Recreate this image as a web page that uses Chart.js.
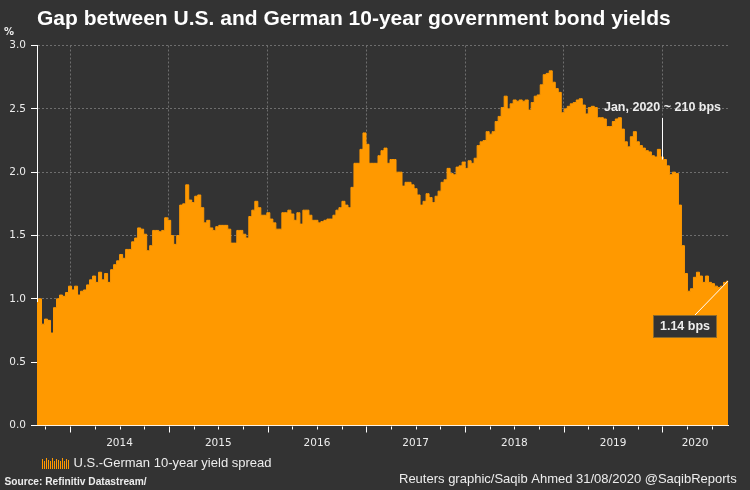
<!DOCTYPE html>
<html><head><meta charset="utf-8">
<style>html,body{margin:0;padding:0;background:#333333;overflow:hidden}canvas{display:block}</style>
<script src="https://cdn.jsdelivr.net/npm/chart.js@4"></script>
</head><body><canvas id="c" width="750" height="490"></canvas>
<script>
const titleText = "Gap between U.S. and German 10-year government bond yields";
const seriesName = "U.S.-German 10-year yield spread";
const sourceText = "Source: Refinitiv Datastream/";
const creditText = "Reuters graphic/Saqib Ahmed 31/08/2020 @SaqibReports";
const startYear = 2013.664, endYear = 2020.664;
const yearTicks = [2014,2015,2016,2017,2018,2019,2020];
const quarterTicks = [2013.75,2014.25,2014.5,2014.75,2015.25,2015.5,2015.75,2016.25,2016.5,2016.75,2017.25,2017.5,2017.75,2018.25,2018.5,2018.75,2019.25,2019.5,2019.75,2020.25,2020.5];
const yearLabels = ["2014","2015","2016","2017","2018","2019","2020"];
const yearLabelAt = [2014.5,2015.5,2016.5,2017.5,2018.5,2019.5,2020.33];
const yTicks = [0,0.5,1,1.5,2,2.5,3];
const spread = [
.97,1.0,.80,.84,.83,.73,.93,1.0,1.03,1.02,1.05,1.10,1.07,1.10,1.03,1.06,1.07,1.11,1.15,1.18,
1.13,1.21,1.15,1.20,1.13,1.23,1.27,1.30,1.35,1.32,1.39,1.39,1.45,1.48,1.56,1.55,1.51,1.38,1.42,1.54,
1.54,1.53,1.54,1.64,1.62,1.50,1.43,1.50,1.74,1.75,1.90,1.78,1.76,1.81,1.82,1.72,1.60,1.62,1.56,1.54,
1.57,1.58,1.58,1.58,1.55,1.44,1.44,1.54,1.54,1.51,1.48,1.65,1.70,1.77,1.72,1.66,1.66,1.68,1.63,1.60,
1.55,1.55,1.68,1.68,1.70,1.67,1.62,1.68,1.59,1.70,1.70,1.66,1.62,1.62,1.60,1.61,1.62,1.63,1.63,1.66,
1.70,1.72,1.77,1.74,1.72,1.88,2.07,2.07,2.18,2.31,2.22,2.07,2.07,2.07,2.13,2.17,2.19,2.07,2.10,2.10,
2.00,2.00,1.89,1.92,1.92,1.90,1.87,1.82,1.74,1.77,1.83,1.80,1.76,1.81,1.85,1.92,1.94,2.03,1.99,1.98,
2.04,2.05,2.08,2.03,2.09,2.07,2.11,2.21,2.24,2.25,2.32,2.30,2.32,2.40,2.44,2.51,2.60,2.50,2.54,2.57,
2.56,2.57,2.56,2.57,2.49,2.55,2.60,2.61,2.69,2.77,2.78,2.80,2.71,2.66,2.63,2.47,2.50,2.52,2.54,2.55,
2.57,2.58,2.53,2.46,2.51,2.52,2.51,2.43,2.43,2.42,2.36,2.36,2.40,2.42,2.43,2.34,2.24,2.20,2.28,2.32,
2.24,2.21,2.19,2.17,2.16,2.13,2.12,2.18,2.12,2.10,2.05,1.98,2.00,1.99,1.74,1.42,1.20,1.06,1.08,1.17,
1.21,1.18,1.13,1.18,1.13,1.12,1.10,1.09,1.10,1.13,1.14];
const dates = spread.map((_,i)=>startYear+i*(endYear-startYear)/(spread.length-1));
const janNote = {text:"Jan, 2020 ~ 210 bps", x:2020, y:2.1};
const lastNote = {text:"1.14 bps", y:1.14};
const iconHeights = [10,8,11,9,8,11,8,10,9,8,11,8,10,9];

const ORANGE="#FF9900", BG="#333333", TEXT="#EDEDED";

const overlay={id:'overlay',
 beforeDraw(c){c.ctx.save();c.ctx.fillStyle=BG;c.ctx.fillRect(0,0,c.width,c.height);c.ctx.restore();},
 afterDatasetsDraw(c){
  const {ctx,scales:{x,y}}=c;ctx.save();
  ctx.strokeStyle='#FFFFFF';ctx.lineWidth=1;
  const base=Math.round(y.getPixelForValue(0))+0.5;
  const mark=(v,len)=>{const p=Math.round(x.getPixelForValue(v))+0.5;ctx.beginPath();ctx.moveTo(p,base);ctx.lineTo(p,base+len);ctx.stroke();};
  quarterTicks.forEach(v=>mark(v,3));yearTicks.forEach(v=>mark(v,6));
  const jx=Math.round(x.getPixelForValue(janNote.x))+0.5, jy=y.getPixelForValue(janNote.y);
  ctx.strokeStyle='#FFFFFF';ctx.beginPath();ctx.moveTo(jx,118);ctx.lineTo(jx,jy);ctx.stroke();
  ctx.fillStyle=TEXT;ctx.font='bold 12.5px "Liberation Sans"';ctx.textAlign='center';ctx.textBaseline='middle';
  ctx.fillText(janNote.text,jx,107.5);
  const lx=x.getPixelForValue(endYear), ly=y.getPixelForValue(lastNote.y);
  ctx.beginPath();ctx.moveTo(lx,ly);ctx.lineTo(695,315);ctx.stroke();
  ctx.fillStyle=BG;ctx.strokeStyle='#8A6A2E';ctx.fillRect(653.5,315.5,63,22);ctx.strokeRect(653.5,315.5,63,22);
  ctx.fillStyle=TEXT;ctx.fillText(lastNote.text,685,327);
  ctx.textAlign='left';
  ctx.font='bold 10px "DejaVu Sans"';ctx.fillText('%',4,32);
  ctx.font='bold 10.2px "Liberation Sans"';ctx.fillText(sourceText,4.5,482);
  ctx.font='13px "Liberation Sans"';ctx.fillText(creditText,399,479);
  const box=c.legend.legendHitBoxes[0];
  if(box){ctx.fillStyle=ORANGE;
   const ix=Math.round(box.left), iy=Math.round(box.top+box.height/2)+6;
   iconHeights.forEach((h,k)=>ctx.fillRect(ix+k*2,iy-h,1,h));}
  ctx.restore();
 }};

new Chart(document.getElementById('c'),{
 type:'line',
 data:{datasets:[{label:seriesName,data:spread.map((v,i)=>({x:dates[i],y:v})),
  borderColor:ORANGE,backgroundColor:ORANGE,borderWidth:1,fill:'origin',pointRadius:0,stepped:'middle',clip:true}]},
 plugins:[overlay],
 options:{responsive:false,animation:false,devicePixelRatio:1,
  layout:{padding:{left:0,right:22,top:6.4,bottom:10.5}},
  plugins:{
   title:{display:true,text:titleText,align:'start',fullSize:false,color:'#FFFFFF',
    font:{family:'"Liberation Sans"',size:21,weight:'bold'},padding:{top:0,bottom:13.9}},
   legend:{display:true,position:'bottom',align:'start',fullSize:false,
    labels:{usePointStyle:true,pointStyle:'rect',pointStyleWidth:25,color:TEXT,padding:5,
     font:{family:'"Liberation Sans"',size:13},
     generateLabels:()=>[{text:seriesName,fillStyle:'rgba(0,0,0,0)',strokeStyle:'rgba(0,0,0,0)',lineWidth:0,pointStyle:'rect',fontColor:TEXT,datasetIndex:0}]}},
   tooltip:{enabled:false}},
  scales:{
   x:{type:'linear',min:startYear,max:endYear,
    afterBuildTicks(s){s.ticks=[...yearTicks,...yearLabelAt].sort((a,b)=>a-b).map(value=>({value}));},
    afterFit(s){s.height=26;},
    grid:{drawTicks:false,color:c=>yearTicks.includes(c.tick&&c.tick.value)?'#6E6E6E':'rgba(0,0,0,0)',lineWidth:1},
    border:{display:true,color:'#FFFFFF',width:1,dash:[2,2]},
    ticks:{autoSkip:false,maxRotation:0,padding:11.5,color:TEXT,font:{family:'"DejaVu Sans"',size:10.5},
     callback:v=>{const k=yearLabelAt.indexOf(v);return k<0?'':yearLabels[k];}}},
   y:{min:0,max:3,
    afterBuildTicks(s){s.ticks=yTicks.map(value=>({value}));},
    afterFit(s){s.width=37;},
    grid:{color:'#6E6E6E',tickColor:'#FFFFFF',tickLength:6,lineWidth:1},
    border:{display:true,color:'#FFFFFF',width:1,dash:[2,2]},
    ticks:{padding:5,color:TEXT,font:{family:'"DejaVu Sans"',size:10.5},callback:v=>v.toFixed(1)}}
  }}
});
</script></body></html>
